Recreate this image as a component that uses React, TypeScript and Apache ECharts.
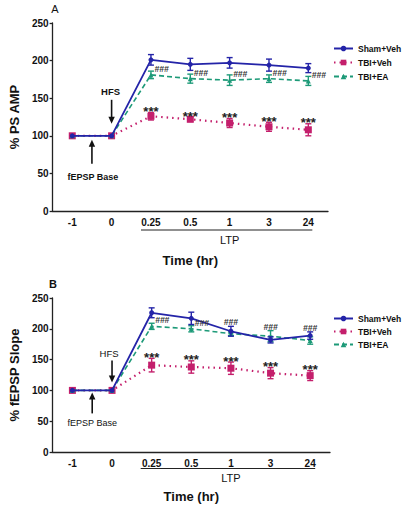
import React, { useEffect, useRef } from "react";
import * as echarts from "echarts";

const timeLabels = ["-1", "0", "0.25", "0.5", "1", "3", "24"];
const seriesNames = ["Sham+Veh", "TBI+Veh", "TBI+EA"];

// Panel A: % PS AMP
const aShamMean = [100, 100, 201, 195, 197, 194, 190];
const aShamErr = [0, 0, 7, 8, 7, 8, 6];
const aVehMean = [100, 100, 126, 122, 117, 112, 108];
const aVehErr = [0, 0, 5, 3, 6, 6, 8];
const aEaMean = [100, 100, 181, 176, 174, 176, 173];
const aEaErr = [0, 0, 5, 6, 7, 5, 6];
const aStars = ["", "", "***", "***", "***", "***", "***"];
const aHashes = ["", "", "###", "###", "###", "###", "###"];

// Panel B: % fEPSP Slope
const bShamMean = [100, 100, 226, 217, 196, 182, 189];
const bShamErr = [0, 0, 8, 10, 8, 5, 6];
const bVehMean = [100, 100, 141, 138, 136, 128, 124];
const bVehErr = [0, 0, 11, 10, 10, 9, 8];
const bEaMean = [100, 100, 204, 200, 192, 188, 181];
const bEaErr = [0, 0, 5, 5, 3, 9, 6];
const bStars = ["", "", "***", "***", "***", "***", "***"];
const bHashes = ["", "", "###", "###", "###", "###", "###"];

const FONT = '"Liberation Sans", Arial, Helvetica, sans-serif';
const C_SHAM = "#2424a8";
const C_VEH = "#c41f6c";
const C_EA = "#1d9a78";

function errSeries(gi: number, mean: number[], err: number[], color: string, z: number) {
  return {
    type: "custom",
    name: "err" + gi + color,
    xAxisIndex: gi,
    yAxisIndex: gi,
    z,
    silent: true,
    data: mean.map((m, i) => [i, m, err[i]]),
    encode: { x: 0, y: 1 },
    renderItem: (_p: any, api: any) => {
      const i = api.value(0);
      const m = api.value(1);
      const e = api.value(2);
      if (!e) return null;
      const t = api.coord([i, m + e]);
      const b = api.coord([i, m - e]);
      const st = { stroke: color, lineWidth: 1.4 };
      return {
        type: "group",
        children: [
          { type: "line", shape: { x1: t[0], y1: t[1], x2: b[0], y2: b[1] }, style: st },
          { type: "line", shape: { x1: t[0] - 3, y1: t[1], x2: t[0] + 3, y2: t[1] }, style: st },
          { type: "line", shape: { x1: b[0] - 3, y1: b[1], x2: b[0] + 3, y2: b[1] }, style: st },
        ],
      };
    },
  };
}

function lineSeries(gi: number, name: string, data: number[], color: string, kind: string, z: number) {
  const base: any = {
    type: "line",
    name,
    xAxisIndex: gi,
    yAxisIndex: gi,
    data,
    z,
    color,
    itemStyle: { color },
  };
  if (kind === "sham") {
    base.symbol = "circle";
    base.symbolSize = 5;
    base.lineStyle = { color, width: 1.8, type: "solid" };
  } else if (kind === "veh") {
    base.symbol = "rect";
    base.symbolSize = 7;
    base.lineStyle = { color, width: 2.2, type: [1.5, 4] };
  } else {
    base.symbol = "triangle";
    base.symbolSize = 5;
    base.lineStyle = { color, width: 1.6, type: [5, 3] };
  }
  return base;
}

function starSeries(gi: number, mean: number[], err: number[], labels: string[]) {
  return {
    type: "custom",
    name: "stars" + gi,
    xAxisIndex: gi,
    yAxisIndex: gi,
    z: 10,
    silent: true,
    data: mean.map((m, i) => [i, m + err[i]]),
    encode: { x: 0, y: 1 },
    renderItem: (params: any, api: any) => {
      const txt = labels[params.dataIndex];
      if (!txt) return null;
      const p = api.coord([api.value(0), api.value(1)]);
      return {
        type: "text",
        x: p[0],
        y: p[1] - 1,
        style: {
          text: txt,
          fill: "#222",
          font: "bold 13px " + FONT,
          align: "center",
          verticalAlign: "middle",
        },
      };
    },
  };
}

function hashSeries(gi: number, ea: number[], eaErr: number[], sham: number[], shamErr: number[], labels: string[], topFrom: number) {
  return {
    type: "custom",
    name: "hash" + gi,
    xAxisIndex: gi,
    yAxisIndex: gi,
    z: 10,
    silent: true,
    data: ea.map((m, i) => [i, m, Math.max(m + eaErr[i], sham[i] + shamErr[i])]),
    encode: { x: 0, y: 1 },
    renderItem: (params: any, api: any) => {
      const txt = labels[params.dataIndex];
      if (!txt) return null;
      const i = api.value(0);
      let x, y, align;
      if (i >= topFrom) {
        const p = api.coord([i, api.value(2)]);
        x = p[0];
        y = p[1] - 4;
        align = "center";
      } else {
        const p = api.coord([i, api.value(1)]);
        x = p[0] + 3.5;
        y = p[1] - 6;
        align = "left";
      }
      return {
        type: "text",
        x,
        y,
        style: {
          text: txt,
          fill: "#333",
          font: "italic bold 8.5px " + FONT,
          align,
          verticalAlign: "middle",
        },
      };
    },
  };
}

function arrowGroup(x: number, yTail: number, yTip: number) {
  const dir = yTip > yTail ? 1 : -1;
  const headLen = 7;
  return [
    {
      type: "line",
      shape: { x1: x, y1: yTail, x2: x, y2: yTip - dir * headLen + dir * 1 },
      style: { stroke: "#111", lineWidth: 1.6 },
      z: 20,
    },
    {
      type: "polygon",
      shape: { points: [[x - 3.2, yTip - dir * headLen], [x + 3.2, yTip - dir * headLen], [x, yTip]] },
      style: { fill: "#111" },
      z: 20,
    },
  ];
}

export default function App() {
  const ref = useRef<HTMLDivElement>(null);
  useEffect(() => {
    if (!ref.current) return;
    const chart = echarts.init(ref.current, null, { renderer: "svg" });

    const axisLabelStyle = { color: "#111", fontFamily: FONT, fontWeight: "bold", fontSize: 10 };
    const yAxisCommon = (gi: number, name: string) => ({
      type: "value",
      gridIndex: gi,
      min: 0,
      max: 250,
      interval: 50,
      name,
      nameLocation: "middle",
      nameGap: 29,
      nameTextStyle: { color: "#111", fontFamily: FONT, fontWeight: "bold", fontSize: 13 },
      axisLine: { show: true, lineStyle: { color: "#222", width: 1.3 } },
      axisTick: { show: true, length: 3, lineStyle: { color: "#222", width: 1.3 } },
      axisLabel: { ...axisLabelStyle, margin: 4 },
      splitLine: { show: false },
    });
    const xAxisCommon = (gi: number, gap: number) => ({
      type: "category",
      gridIndex: gi,
      data: timeLabels,
      boundaryGap: true,
      name: "Time (hr)",
      nameLocation: "middle",
      nameGap: gap,
      nameTextStyle: { color: "#111", fontFamily: FONT, fontWeight: "bold", fontSize: 13 },
      axisLine: { show: true, lineStyle: { color: "#222", width: 1.3 } },
      axisTick: { show: false },
      axisLabel: { ...axisLabelStyle, margin: 6, interval: 0 },
      splitLine: { show: false },
    });

    const legendCommon = (top: number, gap: number) => ({
      orient: "vertical",
      left: 333,
      top,
      itemWidth: 19,
      itemHeight: 7,
      itemGap: gap,
      data: seriesNames,
      selectedMode: false,
      padding: 0,
      textStyle: {
        color: "#111",
        fontFamily: FONT,
        fontWeight: "bold",
        fontSize: 8.5,
        lineHeight: 8,
        overflow: "none",
      },
    });

    chart.setOption({
      animation: false,
      backgroundColor: "#ffffff",
      grid: [
        { left: 48, top: 23, width: 280, height: 188 },
        { left: 48, top: 298, width: 282, height: 154 },
      ],
      xAxis: [xAxisCommon(0, 43), xAxisCommon(1, 38)],
      yAxis: [yAxisCommon(0, "% PS AMP"), yAxisCommon(1, "% fEPSP Slope")],
      legend: [legendCommon(44, 5), legendCommon(314, 4)],
      series: [
        errSeries(0, aVehMean, aVehErr, C_VEH, 3),
        errSeries(0, aEaMean, aEaErr, C_EA, 4),
        errSeries(0, aShamMean, aShamErr, C_SHAM, 5),
        lineSeries(0, "TBI+Veh", aVehMean, C_VEH, "veh", 3),
        lineSeries(0, "TBI+EA", aEaMean, C_EA, "ea", 4),
        lineSeries(0, "Sham+Veh", aShamMean, C_SHAM, "sham", 5),
        starSeries(0, aVehMean, aVehErr, aStars),
        hashSeries(0, aEaMean, aEaErr, aShamMean, aShamErr, aHashes, 99),
        errSeries(1, bVehMean, bVehErr, C_VEH, 3),
        errSeries(1, bEaMean, bEaErr, C_EA, 4),
        errSeries(1, bShamMean, bShamErr, C_SHAM, 5),
        lineSeries(1, "TBI+Veh", bVehMean, C_VEH, "veh", 3),
        lineSeries(1, "TBI+EA", bEaMean, C_EA, "ea", 4),
        lineSeries(1, "Sham+Veh", bShamMean, C_SHAM, "sham", 5),
        starSeries(1, bVehMean, bVehErr, bStars),
        hashSeries(1, bEaMean, bEaErr, bShamMean, bShamErr, bHashes, 4),
      ],
    });

    // annotations anchored to axis coordinates
    const pA0 = chart.convertToPixel({ xAxisIndex: 0, yAxisIndex: 0 }, [0, 100]) as number[];
    const pA1 = chart.convertToPixel({ xAxisIndex: 0, yAxisIndex: 0 }, [1, 100]) as number[];
    const pA2 = chart.convertToPixel({ xAxisIndex: 0, yAxisIndex: 0 }, [2, 0]) as number[];
    const pA6 = chart.convertToPixel({ xAxisIndex: 0, yAxisIndex: 0 }, [6, 0]) as number[];
    const pB0 = chart.convertToPixel({ xAxisIndex: 1, yAxisIndex: 1 }, [0, 100]) as number[];
    const pB1 = chart.convertToPixel({ xAxisIndex: 1, yAxisIndex: 1 }, [1, 100]) as number[];
    const pB2 = chart.convertToPixel({ xAxisIndex: 1, yAxisIndex: 1 }, [2, 0]) as number[];
    const pB6 = chart.convertToPixel({ xAxisIndex: 1, yAxisIndex: 1 }, [6, 0]) as number[];

    const midA = (pA0[0] + pA1[0]) / 2;
    const midB = (pB0[0] + pB1[0]) / 2;

    const txt = (x: number, y: number, text: string, font: string, align = "center") => ({
      type: "text",
      x,
      y,
      z: 20,
      style: { text, fill: "#111", font, align, verticalAlign: "middle" },
    });

    chart.setOption({
      graphic: [
        txt(55, 9, "A", "11px " + FONT),
        txt(53, 284, "B", "bold 11px " + FONT),
        // Panel A arrows
        ...arrowGroup(pA1[0], pA1[1] - 36, pA1[1] - 12),
        txt(pA1[0] - 1, pA1[1] - 44, "HFS", "bold 9.5px " + FONT),
        ...arrowGroup(midA, pA0[1] + 28, pA0[1] + 4),
        txt(midA + 1, pA0[1] + 41, "fEPSP Base", "bold 9px " + FONT),
        // Panel B arrows
        ...arrowGroup(pB1[0], pB1[1] - 30, pB1[1] - 8),
        txt(pB1[0] - 3, pB1[1] - 37, "HFS", "9.5px " + FONT),
        ...arrowGroup(midB, pB0[1] + 23, pB0[1] + 2),
        txt(midB, pB0[1] + 33, "fEPSP Base", "9px " + FONT),
        // LTP brackets
        {
          type: "line",
          z: 20,
          shape: { x1: pA2[0] - 10, y1: 230, x2: pA6[0] + 4, y2: 230 },
          style: { stroke: "#222", lineWidth: 1.2 },
        },
        txt((pA2[0] + pA6[0]) / 2, 240, "LTP", "11px " + FONT),
        {
          type: "line",
          z: 20,
          shape: { x1: pB2[0] - 11, y1: 468.5, x2: pB6[0] + 5, y2: 468.5 },
          style: { stroke: "#222", lineWidth: 1.2 },
        },
        txt((pB2[0] + pB6[0]) / 2, 478, "LTP", "11px " + FONT),
      ],
    });

    return () => chart.dispose();
  }, []);

  return (
    <div
      ref={ref}
      style={{ position: "absolute", left: 0, top: 0, width: 408, height: 507, background: "#fff" }}
    />
  );
}
